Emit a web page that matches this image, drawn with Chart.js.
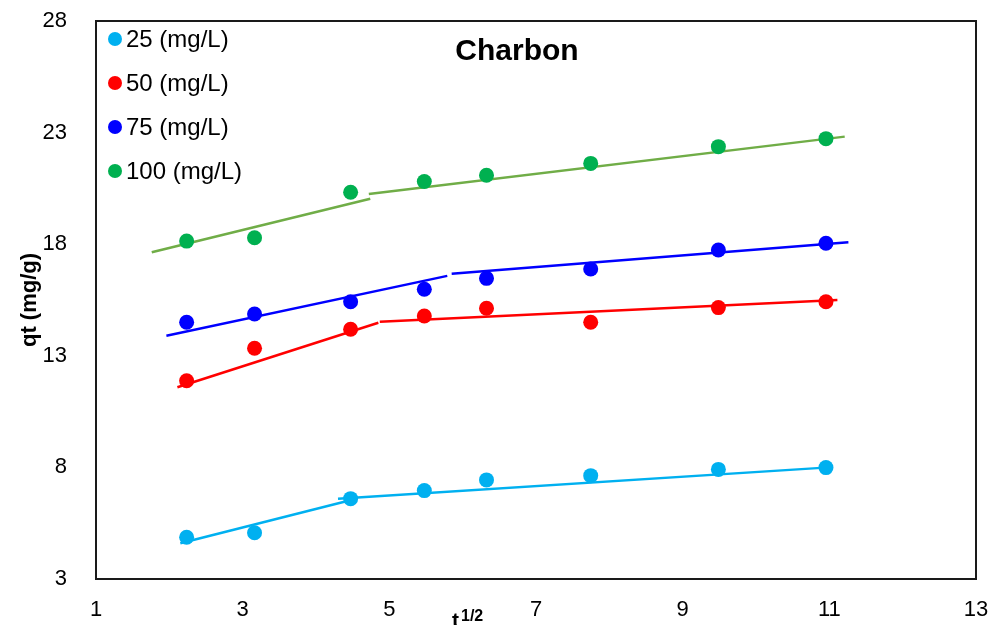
<!DOCTYPE html>
<html>
<head>
<meta charset="utf-8">
<script src="https://cdn.jsdelivr.net/npm/chart.js@4.4.1/dist/chart.umd.min.js"></script>
<style>
  html, body { margin: 0; padding: 0; background: #ffffff; }
  #wrap { width: 992px; height: 625px; position: relative; }
</style>
</head>
<body>
<div id="wrap"><canvas id="c" width="992" height="625"></canvas></div>
<script>
// ---- data ----
const chartTitle = "Charbon";
const xTitleBase = "t";
const xTitleSup = "1/2";
const yTitle = "qt (mg/g)";
const seriesLabels = ["25 (mg/L)", "50 (mg/L)", "75 (mg/L)", "100 (mg/L)"];

// x values: square root of time
const sqrtT = [2.236, 3.162, 4.472, 5.477, 6.325, 7.746, 9.487, 10.954];

// qt (mg/g) per initial concentration
const q25  = [4.87, 5.07, 6.60, 6.96, 7.44, 7.63, 7.91, 7.99];
const q50  = [11.88, 13.34, 14.19, 14.78, 15.13, 14.50, 15.16, 15.42];
const q75  = [14.50, 14.87, 15.42, 15.98, 16.47, 16.89, 17.74, 18.04];
const q100 = [18.14, 18.29, 20.33, 20.81, 21.09, 21.62, 22.37, 22.73];

// piecewise linear fit segments: [[x1, y1], [x2, y2]]
const fit25a  = [[2.15, 4.60], [4.40, 6.47]];
const fit25b  = [[4.30, 6.60], [10.94, 7.99]];
const fit50a  = [[2.11, 11.59], [4.85, 14.48]];
const fit50b  = [[4.87, 14.53], [11.11, 15.50]];
const fit75a  = [[1.96, 13.90], [5.79, 16.58]];
const fit75b  = [[5.85, 16.68], [11.26, 18.09]];
const fit100a = [[1.76, 17.64], [4.74, 20.04]];
const fit100b = [[4.72, 20.25], [11.21, 22.82]];

// axis ticks
const xTicks = [1, 3, 5, 7, 9, 11, 13];
const yTicks = [3, 8, 13, 18, 23, 28];

// ---- styling ----
const pointColors = ["#00B0F0", "#FF0000", "#0000FF", "#00B050"];
const lineColors  = ["#00B0F0", "#FF0000", "#0000FF", "#70AD47"];
const FONT = "'Liberation Sans', Arial, Helvetica, sans-serif";

const seriesValues = [q25, q50, q75, q100];
const fits = [[fit25a, fit25b], [fit50a, fit50b], [fit75a, fit75b], [fit100a, fit100b]];

const datasets = [];
seriesValues.forEach((vals, i) => {
  datasets.push({
    label: seriesLabels[i],
    data: sqrtT.map((x, k) => ({ x: x, y: vals[k] })),
    showLine: false,
    pointRadius: 7.5,
    pointHoverRadius: 7.5,
    pointBackgroundColor: pointColors[i],
    pointBorderColor: pointColors[i],
    pointBorderWidth: 0,
    order: 0
  });
});
fits.forEach((pair, i) => {
  pair.forEach((seg) => {
    datasets.push({
      label: "fit",
      data: seg.map(p => ({ x: p[0], y: p[1] })),
      showLine: true,
      borderColor: lineColors[i],
      borderWidth: 2.5,
      pointRadius: 0,
      fill: false,
      order: 1
    });
  });
});

const overlay = {
  id: "overlay",
  afterDraw(chart) {
    const ctx = chart.ctx;
    const a = chart.chartArea;
    ctx.save();
    // plot frame
    ctx.strokeStyle = "#1a1a1a";
    ctx.lineWidth = 2;
    ctx.strokeRect(a.left, a.top, a.right - a.left, a.bottom - a.top);

    // title
    ctx.fillStyle = "#000";
    ctx.font = "bold 30px " + FONT;
    ctx.textAlign = "center";
    ctx.textBaseline = "middle";
    ctx.fillText(chartTitle, 517, 52);

    // legend (inside plot, top-left)
    ctx.textAlign = "left";
    ctx.font = "24px " + FONT;
    seriesLabels.forEach((lab, i) => {
      const cy = 39 + 44 * i;
      ctx.beginPath();
      ctx.fillStyle = pointColors[i];
      ctx.arc(115, cy, 7, 0, Math.PI * 2);
      ctx.fill();
      ctx.fillStyle = "#000";
      ctx.fillText(lab, 126, cy + 1);
    });

    // x-axis title with superscript
    ctx.textBaseline = "alphabetic";
    ctx.font = "bold 21px " + FONT;
    ctx.fillText(xTitleBase, 452, 627);
    ctx.font = "bold 16px " + FONT;
    ctx.fillText(xTitleSup, 461, 621);
    ctx.restore();
  }
};

new Chart(document.getElementById("c"), {
  type: "scatter",
  data: { datasets: datasets },
  options: {
    responsive: false,
    animation: false,
    devicePixelRatio: 1,
    layout: { padding: { top: 21, right: 16, left: 0, bottom: 0 } },
    plugins: {
      legend: { display: false },
      title: { display: false },
      tooltip: { enabled: false }
    },
    scales: {
      x: {
        type: "linear",
        min: xTicks[0],
        max: xTicks[xTicks.length - 1],
        afterBuildTicks(scale) { scale.ticks = xTicks.map(v => ({ value: v })); },
        ticks: { color: "#000", font: { family: FONT, size: 22 }, padding: 18, maxRotation: 0, autoSkip: false },
        grid: { display: false, drawTicks: false },
        border: { display: false },
        afterFit(scale) {
          scale.height = 46;
          scale.paddingLeft = 0; scale.paddingRight = 0;
          scale.paddingTop = 0; scale.paddingBottom = 0;
        }
      },
      y: {
        type: "linear",
        min: yTicks[0],
        max: yTicks[yTicks.length - 1],
        afterBuildTicks(scale) { scale.ticks = yTicks.map(v => ({ value: v })); },
        ticks: { color: "#000", font: { family: FONT, size: 22 }, padding: 29, autoSkip: false },
        grid: { display: false, drawTicks: false },
        border: { display: false },
        title: {
          display: true,
          text: yTitle,
          color: "#000",
          font: { family: FONT, size: 22, weight: "bold" },
          padding: { top: 17, bottom: 0 }
        },
        afterFit(scale) {
          scale.width = 96;
          scale.paddingTop = 0; scale.paddingBottom = 0;
          scale.paddingLeft = 0; scale.paddingRight = 0;
        }
      }
    }
  },
  plugins: [overlay]
});
</script>
</body>
</html>
